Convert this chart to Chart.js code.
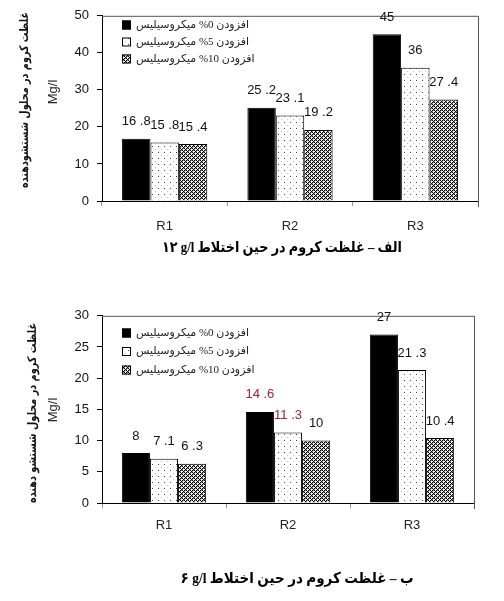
<!DOCTYPE html>
<html>
<head>
<meta charset="utf-8">
<script src="https://cdn.jsdelivr.net/npm/chart.js@4.4.0/dist/chart.umd.min.js"></script>
<style>
html, body { margin:0; padding:0; background:#fff; }
.wrap { position:absolute; left:0; width:504px; }
</style>
</head>
<body>
<div class="wrap" style="top:0;height:260px"><canvas id="chartA"></canvas></div>
<div class="wrap" style="top:300px;height:301px"><canvas id="chartB"></canvas></div>
<script>
// data
const categories = ['R1', 'R2', 'R3'];
const seriesNames = ['افزودن 0% میکروسیلیس', 'افزودن 5% میکروسیلیس', 'افزودن 10% میکروسیلیس'];
const valuesA0 = [16.8, 25.2, 45];
const valuesA5 = [15.8, 23.1, 36];
const valuesA10 = [15.4, 19.2, 27.4];
const valuesB0 = [8, 14.6, 27];
const valuesB5 = [7.1, 11.3, 21.3];
const valuesB10 = [6.3, 10, 10.4];
const ticksA = [0, 10, 20, 30, 40, 50];
const ticksB = [0, 5, 10, 15, 20, 25, 30];
const axisTitleA = 'غلظت کروم در محلول شستشودهنده';
const axisTitleB = 'غلظت کروم در محلول شستشو دهنده';
const unitLabel = 'Mg/l';
const captionA = 'الف – غلظت کروم در حین اختلاط g/l \u200F۱۲';
const captionB = 'ب – غلظت کروم در حین اختلاط g/l \u200F۶';

function makePattern(kind) {
  const c = document.createElement('canvas');
  const g = c.getContext('2d');
  if (kind === 'dots') {
    c.width = 6; c.height = 6;
    g.fillStyle = '#fff'; g.fillRect(0, 0, 6, 6);
    g.fillStyle = '#444'; g.fillRect(2, 2, 1, 1);
    g.fillStyle = '#c8c8c8'; g.fillRect(5, 5, 1, 1);
  } else {
    c.width = 4; c.height = 4;
    const rows = ['KWKG', 'WKGW', 'KGKW', 'GWWK'];
    const col = { K:'#000', W:'#fff', G:'#888' };
    rows.forEach((r, y) => r.split('').forEach((p, x) => { g.fillStyle = col[p]; g.fillRect(x, y, 1, 1); }));
  }
  return g.createPattern(c, 'repeat');
}
const fills = ['#000', makePattern('dots'), makePattern('hatch')];

// draw text squeezed horizontally to a given width
function fitText(ctx, text, x, y, maxW) {
  const w = ctx.measureText(text).width;
  ctx.save();
  ctx.translate(x, y);
  ctx.scale(Math.min(1, maxW / w), 1);
  ctx.fillText(text, 0, 0);
  ctx.restore();
}

const decor = {
  id: 'decor',
  afterDraw(chart, args, o) {
    const ctx = chart.ctx, a = chart.chartArea;
    ctx.save();
    // top + right frame
    ctx.strokeStyle = '#555'; ctx.lineWidth = 1;
    ctx.beginPath();
    ctx.moveTo(a.left, a.top + 0.5); ctx.lineTo(a.right + 0.5, a.top + 0.5);
    ctx.lineTo(a.right + 0.5, a.bottom + 6);
    ctx.stroke();

    // value labels
    ctx.direction = 'ltr';
    ctx.font = '13px "Liberation Sans", Arial, sans-serif';
    ctx.textAlign = 'center'; ctx.textBaseline = 'middle';
    chart.data.datasets.forEach((ds, di) => {
      chart.getDatasetMeta(di).data.forEach((bar, ci) => {
        const hot = o.hot.some(h => h[0] === di && h[1] === ci);
        ctx.fillStyle = hot ? '#a3203f' : '#111';
        ctx.fillText(String(ds.data[ci]).replace('.', ' .'), bar.x, bar.y - 17);
      });
    });

    // legend inside plot
    ctx.direction = 'rtl';
    ctx.textAlign = 'left';
    ctx.font = '11px "Liberation Serif", "DejaVu Sans", serif';
    chart.data.datasets.forEach((ds, i) => {
      const y = o.legendY + i * o.legendStep;
      ctx.fillStyle = ds.backgroundColor;
      ctx.fillRect(122, y - 4.5, 9, 9);
      ctx.strokeStyle = '#000';
      ctx.strokeRect(122.5, y - 4, 8, 8);
      ctx.fillStyle = '#222';
      ctx.fillText(ds.label, 136, y);
    });

    // rotated axis title and unit
    ctx.textAlign = 'center';
    ctx.save();
    ctx.translate(o.titleX, o.titleY);
    ctx.rotate(-Math.PI / 2);
    ctx.font = 'bold 12px "DejaVu Sans", sans-serif';
    ctx.fillStyle = '#111';
    fitText(ctx, o.title, 0, 0, o.titleW);
    ctx.restore();
    ctx.save();
    ctx.direction = 'ltr';
    ctx.translate(53, o.unitY);
    ctx.rotate(-Math.PI / 2);
    ctx.font = '13px "Liberation Sans", Arial, sans-serif';
    ctx.fillStyle = '#222';
    ctx.fillText(unitLabel, 0, 0);
    ctx.restore();

    // caption under the panel
    ctx.font = 'bold 15px "Liberation Serif", "DejaVu Sans", serif';
    ctx.fillStyle = '#000';
    fitText(ctx, o.caption, o.captionX, o.captionY, o.captionW);
    ctx.restore();
  }
};

function buildChart(id, sets, ticks, cfg) {
  return new Chart(document.getElementById(id), {
    type: 'bar',
    data: {
      labels: categories,
      datasets: sets.map((v, i) => ({
        label: seriesNames[i], data: v,
        backgroundColor: fills[i], borderColor: '#000', borderWidth: 1,
        categoryPercentage: 0.68, barPercentage: 1
      }))
    },
    options: {
      responsive: true, maintainAspectRatio: false, animation: false,
      layout: { padding: { left: 0, right: cfg.padRight, top: cfg.padTop, bottom: cfg.padBottom } },
      plugins: { legend: { display: false }, tooltip: { enabled: false }, decor: cfg },
      scales: {
        x: {
          grid: { offset: true, drawOnChartArea: false, tickLength: 5, color: '#999' },
          border: { color: '#000' },
          ticks: { color: '#222', padding: cfg.xPad, font: { family: '"Liberation Sans", Arial', size: 13 } },
          afterFit: s => { s.height = 40; }
        },
        y: {
          min: 0, max: ticks[ticks.length - 1],
          afterBuildTicks: s => { s.ticks = ticks.map(v => ({ value: v })); },
          grid: { drawOnChartArea: false, tickLength: 5, color: '#000' },
          border: { color: '#000' },
          ticks: { color: '#111', padding: 8, font: { family: '"Liberation Sans", Arial', size: 13 } },
          afterFit: s => { s.width = 102; }
        }
      }
    },
    plugins: [decor]
  });
}

buildChart('chartA', [valuesA0, valuesA5, valuesA10], ticksA, {
  padRight: 26, padTop: 10, padBottom: 19, xPad: 13,
  legendY: 25, legendStep: 17,
  title: axisTitleA, titleW: 176, titleX: 25, titleY: 100, unitY: 92,
  caption: captionA, captionW: 240, captionX: 282, captionY: 248, hot: []
});
buildChart('chartB', [valuesB0, valuesB5, valuesB10], ticksB, {
  padRight: 30, padTop: 12, padBottom: 58, xPad: 10,
  legendY: 33, legendStep: 18.5,
  title: axisTitleB, titleW: 180, titleX: 33, titleY: 113, unitY: 110,
  caption: captionB, captionW: 233, captionX: 297, captionY: 279, hot: [[0, 1], [1, 1]]
});
</script>
</body>
</html>
